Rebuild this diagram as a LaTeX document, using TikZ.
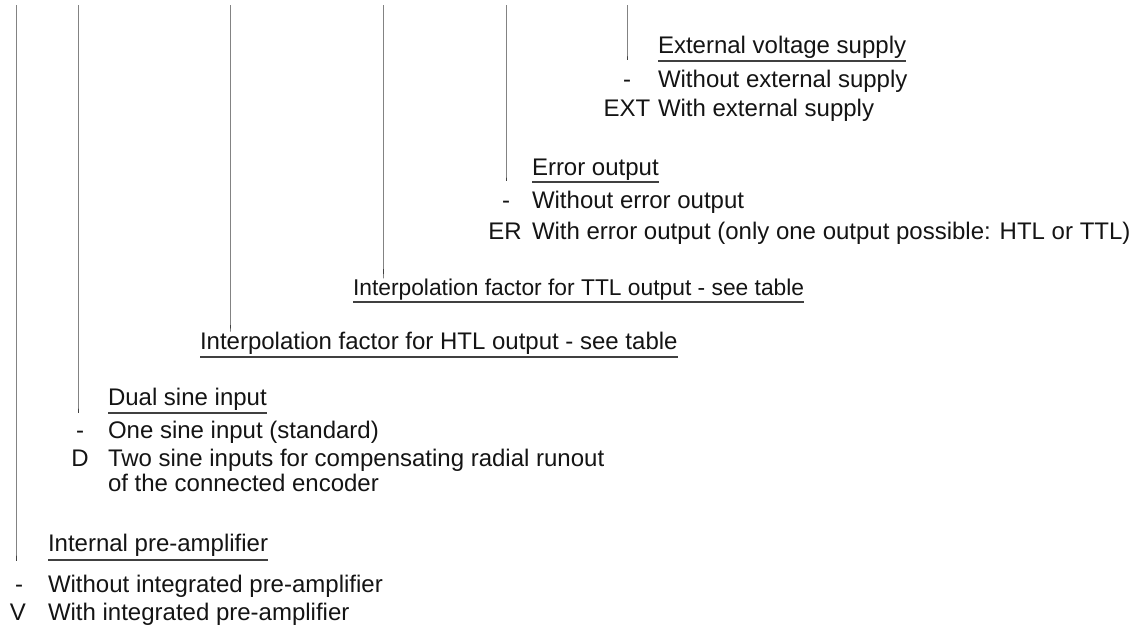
\documentclass[tikz,border=0pt]{standalone}
\usepackage{fontspec}
\setmainfont{Liberation Sans}
\begin{document}
\begin{tikzpicture}[x=1pt,y=-1pt,
  every node/.style={inner sep=0pt, outer sep=0pt, font=\fontsize{24}{28}\selectfont, text=black!92},
  head/.style={anchor=base west},
  desc/.style={anchor=base west},
  code/.style={anchor=base},
  vline/.style={draw=black!75, line width=1pt},
  uline/.style={draw=black!75, line width=1.2pt}]
\useasboundingbox (0,0) rectangle (1144,627);

% column tops
\coordinate (t1) at (16,5);
\coordinate (t2) at (78,5);
\coordinate (t3) at (230,5);
\coordinate (t4) at (383,5);
\coordinate (t5) at (506,5);
\coordinate (t6) at (627,5);

% group 6: external voltage supply
\node[head] (h6) at (658,53) {External voltage supply};
\node[code] (c6a) at (627,87) {-};
\node[desc] (d6a) at (658,87) {Without external supply};
\node[code] (c6b) at (627,116) {EXT};
\node[desc] (d6b) at (658,116) {With external supply};
\draw[uline] ([yshift=-8pt]h6.base west) -- ([yshift=-8pt]h6.base east);
\draw[vline] (t6) -- (t6 |- h6.base) -- ++(0,7);

% group 5: error output
\node[head] (h5) at (532,175) {Error output};
\node[code] (c5a) at (506,208) {-};
\node[desc] (d5a) at (532,208) {Without error output};
\node[code] (c5b) at (505,239) {ER};
\node[desc] (d5b) at (532,239) {With error output (only one output possible: HTL or TTL)};
\draw[uline] ([yshift=-7pt]h5.base west) -- ([yshift=-7pt]h5.base east);
\draw[vline] (t5) -- (t5 |- h5.base) -- ++(0,6);

% TTL
\node[head, font=\fontsize{22.8}{27}\selectfont] (h4) at (353,295) {Interpolation factor for TTL output - see table};
\draw[uline] ([yshift=-7pt]h4.base west) -- ([yshift=-7pt]h4.base east);
\draw[vline] (t4) -- (t4 |- h4.north) -- ++(0,-9);

% HTL
\node[head] (h3) at (200,349) {Interpolation factor for HTL output - see table};
\draw[uline] ([yshift=-8pt]h3.base west) -- ([yshift=-8pt]h3.base east);
\draw[vline] (t3) -- (t3 |- h3.north) -- ++(0,-7);

% group 2: dual sine input
\node[head] (h2) at (108,405) {Dual sine input};
\node[code] (c2a) at (80,438) {-};
\node[desc] (d2a) at (108,438) {One sine input (standard)};
\node[code] (c2b) at (80,466) {D};
\node[desc] (d2b) at (108,466) {Two sine inputs for compensating radial runout};
\node[desc] (d2c) at (108,491) {of the connected encoder};
\draw[uline] ([yshift=-8pt]h2.base west) -- ([yshift=-8pt]h2.base east);
\draw[vline] (t2) -- (t2 |- h2.base) -- ++(0,8);

% group 1: internal pre-amplifier
\node[head] (h1) at (48,551) {Internal pre-amplifier};
\node[code] (c1a) at (19,592) {-};
\node[desc] (d1a) at (48,592) {Without integrated pre-amplifier};
\node[code] (c1b) at (18,620) {V};
\node[desc] (d1b) at (48,620) {With integrated pre-amplifier};
\draw[uline] ([yshift=-9pt]h1.base west) -- ([yshift=-9pt]h1.base east);
\draw[vline] (t1) -- (t1 |- h1.base) -- ++(0,10);
\end{tikzpicture}
\end{document}
